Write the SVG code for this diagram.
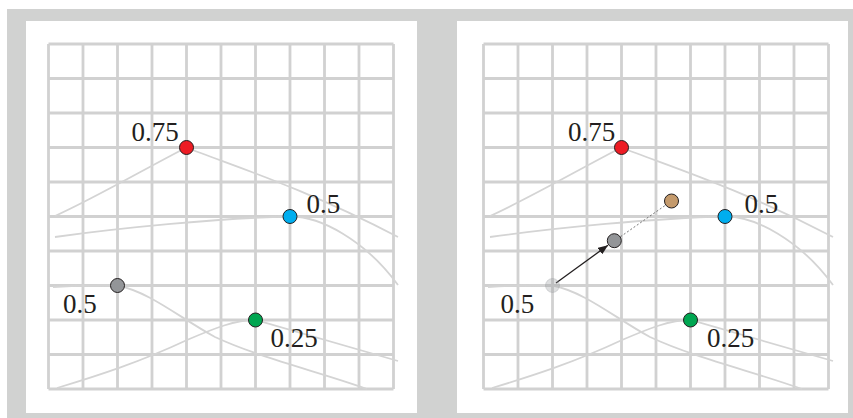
<svg xmlns="http://www.w3.org/2000/svg" xmlns:xlink="http://www.w3.org/1999/xlink" width="853" height="418" viewBox="0 0 853 418">
<style>
.grid{fill:none;stroke:#d1d1d1;stroke-width:2.8}
.curve{fill:none;stroke:#d4d4d4;stroke-width:1.8}
.dot{stroke:#231f20;stroke-width:1}
.lbl{font-family:"Liberation Serif","Times New Roman",serif;font-size:27px;fill:#231f20}
</style>
<defs>
<path id="gridpath" class="grid" d="M48.5,44H393.5M48.5,78.5H393.5M48.5,113H393.5M48.5,147.5H393.5M48.5,182H393.5M48.5,216.5H393.5M48.5,251H393.5M48.5,285.5H393.5M48.5,320H393.5M48.5,354.5H393.5M48.5,389H393.5M48.5,44V389M83,44V389M117.5,44V389M152,44V389M186.5,44V389M221,44V389M255.5,44V389M290,44V389M324.5,44V389M359,44V389M393.5,44V389"/>
<g id="curveset">
<path class="curve" d="M55,216 C95,198 150,166 186.5,147.5 C230,165 300,186 398,237"/>
<path class="curve" d="M55,237 C120,228 220,218 290,216.5 C320,216 365,240 398,285"/>
<path class="curve" d="M53,287 C80,285 100,285 117.5,285.5 C150,292 180,318 215,337 C260,358 320,372 367,389"/>
<path class="curve" d="M57,388 C100,375 140,362 187,340 C215,328 235,320 255.5,320 L398,361"/>
</g>
<marker id="ah" viewBox="0 0 10 8" refX="10" refY="4" markerWidth="10" markerHeight="8" markerUnits="userSpaceOnUse" orient="auto">
<path d="M0,0 L10,4 L0,8 Z" fill="#231f20"/>
</marker>
</defs>
<rect x="7" y="9" width="846" height="409" fill="#d1d2d1"/>
<rect x="26" y="21" width="391" height="392" fill="#ffffff"/>
<rect x="457" y="21" width="391" height="392" fill="#ffffff"/>

<g id="left-panel">
<use xlink:href="#gridpath"/>
<use xlink:href="#curveset"/>
</g>
<g id="right-panel">
<use xlink:href="#gridpath" transform="translate(435,0)"/>
<use xlink:href="#curveset" transform="translate(435,0)"/>
</g>

<g id="connectors">
<line x1="556" y1="283" x2="608" y2="245.2" stroke="#231f20" stroke-width="1.3" marker-end="url(#ah)"/>
<line x1="620.5" y1="236.7" x2="665.5" y2="205.2" stroke="#555555" stroke-width="0.8" stroke-dasharray="2,2"/>
</g>

<g id="L-red"><circle class="dot" cx="186.5" cy="147.5" r="7" fill="#ed1c24"/><text class="lbl" x="131.5" y="141">0.75</text></g>
<g id="L-blue"><circle class="dot" cx="290" cy="216.5" r="7" fill="#00aeef"/><text class="lbl" x="306.5" y="213">0.5</text></g>
<g id="L-gray"><circle class="dot" cx="117.5" cy="285.5" r="7" fill="#939598"/><text class="lbl" x="63" y="313">0.5</text></g>
<g id="L-green"><circle class="dot" cx="255.5" cy="320" r="7" fill="#00a651"/><text class="lbl" x="270.5" y="346.5">0.25</text></g>

<g id="R-red"><circle class="dot" cx="621.5" cy="147.5" r="7" fill="#ed1c24"/><text class="lbl" x="568" y="141">0.75</text></g>
<g id="R-blue"><circle class="dot" cx="725" cy="216.5" r="7" fill="#00aeef"/><text class="lbl" x="744.5" y="213">0.5</text></g>
<g id="R-gray-old"><circle cx="552.5" cy="285.5" r="7" fill="#939598" fill-opacity="0.3" stroke="#939598" stroke-opacity="0.3" stroke-width="1"/><text class="lbl" x="500.5" y="313">0.5</text></g>
<g id="R-gray-new"><circle class="dot" cx="614.3" cy="240.7" r="7" fill="#939598"/></g>
<g id="R-tan"><circle class="dot" cx="671.5" cy="201" r="7" fill="#c49a6c"/></g>
<g id="R-green"><circle class="dot" cx="690.5" cy="320" r="7" fill="#00a651"/><text class="lbl" x="707" y="346.5">0.25</text></g>
</svg>
